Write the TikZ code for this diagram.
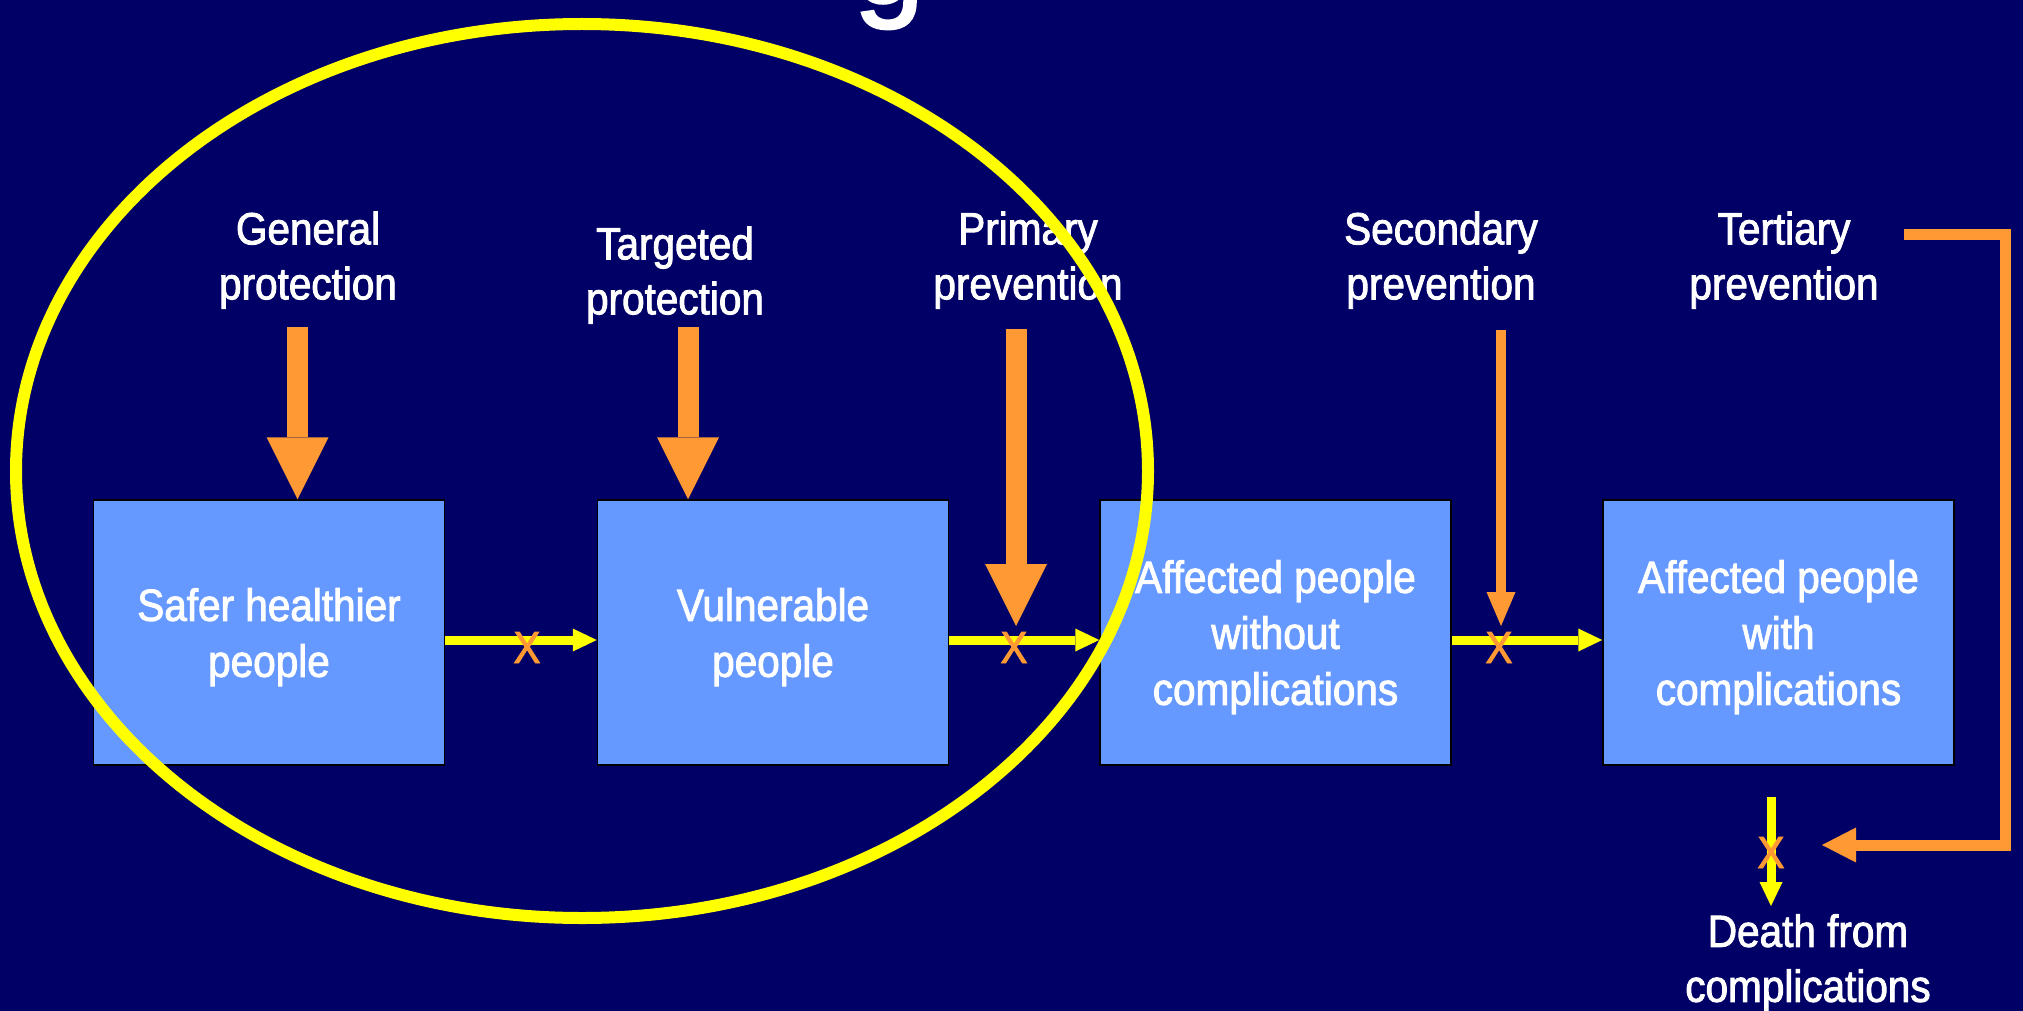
\documentclass[tikz,border=0pt]{standalone}
\usepackage{fontspec}
\setmainfont{Liberation Sans}[FakeStretch=0.9,FakeBold=2]
\newfontfamily\titlefont{Liberation Sans}[FakeBold=2]
\usetikzlibrary{arrows.meta}
\definecolor{navy}{RGB}{0,0,102}
\definecolor{boxblue}{RGB}{102,153,255}
\definecolor{orng}{RGB}{255,153,51}
\definecolor{yell}{RGB}{255,255,0}
\tikzset{
  stage/.style={draw=black, line width=1.5pt, fill=boxblue, minimum width=351pt,
    minimum height=265pt, inner sep=0pt, text=white, align=center, text depth=0pt,
    font=\fontsize{45}{56}\selectfont},
  lbl/.style={text=white, align=center, anchor=north, inner sep=0pt,
    font=\fontsize{45}{55}\selectfont},
  cross/.style={text=orng, anchor=base, inner sep=0pt, font=\fontsize{45}{45}\selectfont},
  bigarrow/.style={orng, line width=21pt, -{Triangle[width=62pt,length=62pt,line width=0pt]}},
  thinarrow/.style={orng, line width=10pt, -{Triangle[width=29pt,length=34pt,line width=0pt]}},
  backarrow/.style={orng, line width=11pt, -{Triangle[width=35pt,length=34pt,line width=0pt]}},
  flow/.style={yell, line width=9pt, -{Triangle[width=23pt,length=24pt,line width=0pt]}}
}
\begin{document}
\begin{tikzpicture}[x=1pt,y=-1pt]
\useasboundingbox (0,0) rectangle (2023,1011);
\clip (0,0) rectangle (2023,1011);
\fill [navy] (0,0) rectangle (2023,1011);

% title, cut off at the top
\node [text=white, anchor=base, inner sep=0pt, font=\titlefont\fontsize{126}{126}\selectfont] (title) at (889,3) {g};

% the four stages
\node [stage] (safe) at (269,632.5) {Safer healthier\\people};
\node [stage] (vuln) at (773,632.5) {Vulnerable\\people};
\node [stage] (without) at (1275.5,632.5) {Affected people\\without\\complications};
\node [stage] (with) at (1778.5,632.5) {Affected people\\with\\complications};

% labels
\node [lbl] (gen) at (308,211.5) {General\\protection};
\node [lbl] (tgt) at (675,226.5) {Targeted\\protection};
\node [lbl] (pri) at (1028,211.5) {Primary\\prevention};
\node [lbl] (sec) at (1441,211.5) {Secondary\\prevention};
\node [lbl] (ter) at (1784,211.5) {Tertiary\\prevention};
\node [lbl] (death) at (1808,914) {Death from\\complications};

% flow between stages
\coordinate (row) at (0,640);
\draw [flow] (safe.east |- row) -- (vuln.west |- row);
\draw [flow] (vuln.east |- row) -- (without.west |- row);
\draw [flow] (without.east |- row) -- (with.west |- row);
\coordinate (dTop) at (1771,797);
\draw [flow, shorten >=8pt] (dTop) -- (dTop |- death.north);

% interventions
\coordinate (gTop) at (297.5,327);
\coordinate (tTop) at (688,327);
\coordinate (pTop) at (1016,329);
\coordinate (sTop) at (1501,330);
\draw [bigarrow] (gTop) -- (gTop |- safe.north);
\draw [bigarrow] (tTop) -- (tTop |- vuln.north);
\draw [bigarrow, shorten >=14pt] (pTop) -- (pTop |- row);
\draw [thinarrow, shorten >=14pt] (sTop) -- (sTop |- row);
\coordinate (terA) at (1904,234);
\coordinate (terB) at (2005.5,845);
\coordinate (terTip) at (1822,845);
\draw [backarrow] (terA) -| (terB) -- (terTip);

% crosses
\node [cross] (x1) at (527,663) {X};
\node [cross] (x2) at (1014,663) {X};
\node [cross] (x3) at (1499,663) {X};
\node [cross] (x4) at (1771,868) {X};

\draw [yell, line width=12pt] (582,471) ellipse [x radius=566pt, y radius=447pt];
\end{tikzpicture}
\end{document}
